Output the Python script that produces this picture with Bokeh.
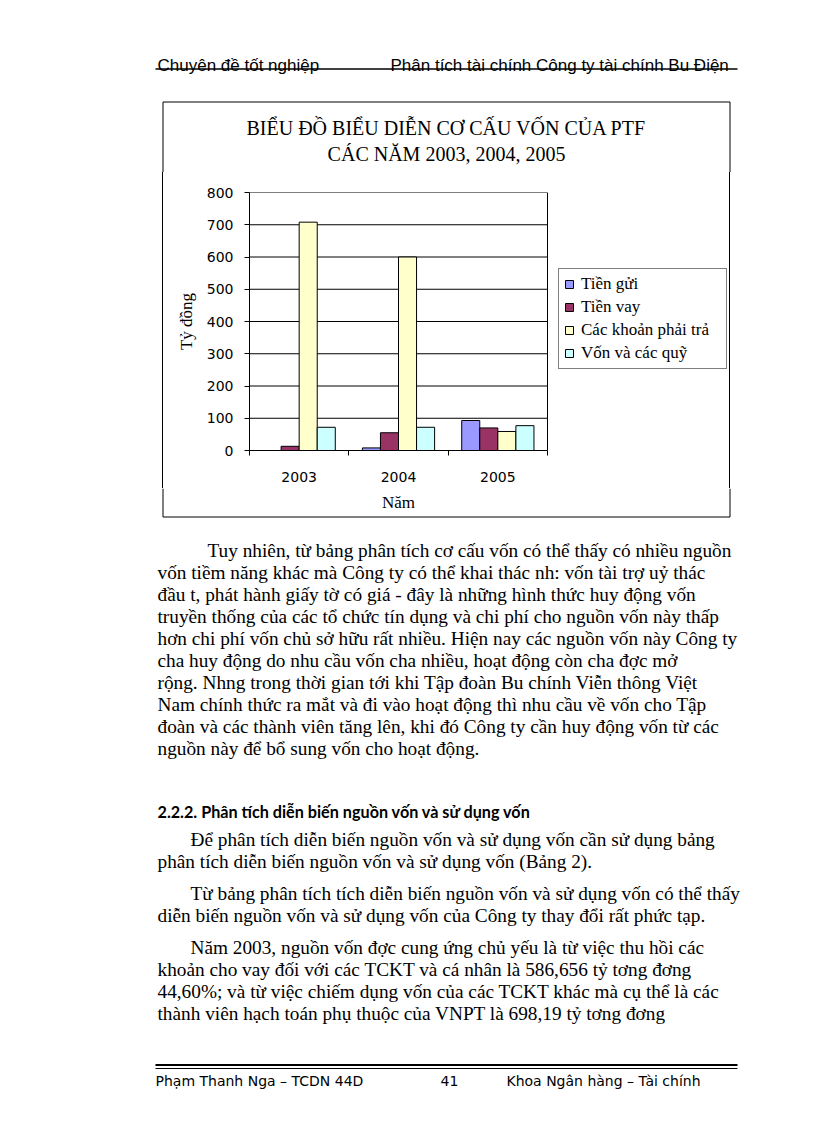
from bokeh.plotting import figure
from bokeh.models import Range1d, FixedTicker, Legend, LegendItem, ColumnDataSource, Spacer
from bokeh.layouts import column, row
from bokeh.transform import dodge
from bokeh.core.properties import value
from bokeh.embed import file_html
from bokeh.resources import INLINE

# ---------------- chart data ----------------
years = [2003, 2004, 2005]
year_labels = ["2003", "2004", "2005"]
series_names = ["Tiền gửi", "Tiền vay", "Các khoản phải trả", "Vốn và các quỹ"]
tien_gui = [0, 8, 93]
tien_vay = [13, 55, 70]
cac_khoan_phai_tra = [708, 600, 59]
von_va_cac_quy = [72, 72, 77]
y_ticks = [0, 100, 200, 300, 400, 500, 600, 700, 800]
series_colors = ["#9999FF", "#993366", "#FFFFCC", "#CCFFFF"]
chart_title = ["BIỂU ĐỒ BIỂU DIỄN CƠ CẤU VỐN CỦA PTF", "CÁC NĂM 2003, 2004, 2005"]
x_title = "Năm"
y_title = "Tỷ đồng"

# ---------------- page text ----------------
header_left = "Chuyên đề tốt nghiệp"
header_right = "Phân tích tài chính Công ty tài chính Bu   Điện"
footer_texts = ["Phạm Thanh Nga – TCDN 44D", "41", "Khoa Ngân hàng – Tài chính"]
heading = "2.2.2. Phân tích diễn biến nguồn vốn và sử dụng vốn"
para_lines = [
    "Tuy nhiên, từ bảng phân tích cơ cấu vốn có thể thấy có nhiều nguồn",
    "vốn tiềm năng khác mà Công ty có thể khai thác nh:  vốn tài trợ uỷ thác",
    "đầu t,  phát hành giấy tờ có giá - đây là những hình thức huy động vốn",
    "truyền thống của các tổ chức tín dụng và chi phí cho nguồn vốn này thấp",
    "hơn chi phí vốn chủ sở hữu rất nhiều. Hiện nay các nguồn vốn này Công ty",
    "cha  huy động do nhu cầu vốn cha  nhiều, hoạt động còn cha  đợc  mở",
    "rộng. Nhng  trong thời gian tới khi Tập đoàn Bu  chính Viễn thông Việt",
    "Nam chính thức ra mắt và đi vào hoạt động thì nhu cầu về vốn cho Tập",
    "đoàn và các thành viên tăng lên, khi đó Công ty cần huy động vốn từ các",
    "nguồn này để bổ sung vốn cho hoạt động.",
    "Để phân tích diễn biến nguồn vốn và sử dụng vốn cần sử dụng bảng",
    "phân tích diễn biến nguồn vốn và sử dụng vốn (Bảng 2).",
    "Từ bảng phân tích tích diễn biến nguồn vốn và sử dụng vốn có thể thấy",
    "diễn biến nguồn vốn và sử dụng vốn của Công ty thay đổi rất phức tạp.",
    "Năm 2003, nguồn vốn đợc  cung ứng chủ yếu là từ việc thu hồi các",
    "khoản cho vay đối với các TCKT và cá nhân là 586,656 tỷ tơng  đơng",
    "44,60%; và từ việc chiếm dụng vốn của các TCKT khác mà cụ thể là các",
    "thành viên hạch toán phụ thuộc của VNPT là 698,19 tỷ tơng  đơng",
]
para_x = [207] + [157] * 9 + [190, 157, 190, 157, 190, 157, 157, 157]
para_y = [550 + 22 * i for i in range(10)] + [839, 861, 893, 915, 947, 969, 991, 1013]

SERIF = "Liberation Serif"
SANS = "DejaVu Sans"
PAGE_W = 810
BOX_L, BOX_R, BOX_T, BOX_B = 162.5, 729.5, 101.5, 516.5
TOP_H = 172      # header + chart-title band: page y 0..172
MID_H = 316      # chart row: page y 172..488
CHART_W = 566    # page x 163..729
LEFT_B = 86      # chart left border (y axis area)
PLOT_W = 298     # width of the plot area proper, px
X0, X1 = 2002.5, 2005.5
BODY_Y0 = TOP_H + MID_H


def plain_fig(w, h, x0, y0):
    f = figure(width=w, height=h, x_range=Range1d(x0, x0 + w), y_range=Range1d(y0 + h, y0),
               output_backend="svg", toolbar_location=None, x_axis_type=None, y_axis_type=None,
               min_border=0, outline_line_color=None)
    f.grid.visible = False
    return f


# ---------------- top band: page header + box top + chart title ----------------
top = plain_fig(PAGE_W, TOP_H, 0, 0)
top.text(x=[157], y=[65], text=[header_left], text_font=value("Liberation Sans"),
         text_font_size=value("17px"), text_baseline="alphabetic", text_align="left", text_color="black")
top.text(x=[390], y=[65], text=[header_right], text_font=value("Liberation Sans"),
         text_font_size=value("17px"), text_baseline="alphabetic", text_align="left", text_color="black")
top.segment(x0=[155], y0=[68.5], x1=[737], y1=[68.5], line_color="black", line_width=1.6)
top.segment(x0=[BOX_L, BOX_L, BOX_R], y0=[BOX_T, BOX_T, BOX_T], x1=[BOX_R, BOX_L, BOX_R],
            y1=[BOX_T, TOP_H, TOP_H], line_color="black", line_width=1)
top.text(x=[446, 446], y=[127, 153], text=chart_title, text_font=value(SERIF),
         text_font_size=value("20px"), text_baseline="middle", text_align="center", text_color="black")

# ---------------- chart ----------------
# the frame spans the plot area plus the legend area to its right;
# the x range is extended so that 2002.5..2005.5 covers exactly the plot area
frame_w = CHART_W - LEFT_B
x_end = X0 + (X1 - X0) * frame_w / PLOT_W
chart = figure(width=CHART_W, height=MID_H, x_range=Range1d(X0, x_end), y_range=Range1d(0, 800),
               output_backend="svg", toolbar_location=None,
               min_border_left=LEFT_B, min_border_right=0, min_border_top=20, min_border_bottom=38)
chart.outline_line_color = None
chart.grid.visible = False

# plot-area grid lines and right border
chart.segment(x0=[X0] * (len(y_ticks) - 1), y0=y_ticks[1:], x1=[X1] * (len(y_ticks) - 1), y1=y_ticks[1:],
              line_color="black", line_width=1)
chart.segment(x0=[X1], y0=[y_ticks[0]], x1=[X1], y1=[y_ticks[-1]], line_color="black", line_width=1)

src = ColumnDataSource(dict(year=years, gui=tien_gui, vay=tien_vay, tra=cac_khoan_phai_tra, von=von_va_cac_quy))
bw = 1 / 5.5
items = []
for i, (col, name, color) in enumerate(zip(["gui", "vay", "tra", "von"], series_names, series_colors)):
    r = chart.vbar(x=dodge("year", (i - 1.5) * bw, range=chart.x_range), top=col, width=bw, source=src,
                   fill_color=color, line_color="black", line_width=1)
    items.append(LegendItem(label=name, renderers=[r]))

xa = chart.xaxis[0]
xa.bounds = (X0, X1)
xa.ticker = FixedTicker(ticks=years, minor_ticks=[2002.5, 2003.5, 2004.5, 2005.5])
xa.major_label_overrides = {y: l for y, l in zip(years, year_labels)}
xa.major_tick_line_color = None
xa.major_tick_out = 0
xa.major_tick_in = 0
xa.minor_tick_line_color = "black"
xa.minor_tick_out = 5
xa.minor_tick_in = 0
xa.major_label_standoff = 16

ya = chart.yaxis[0]
ya.ticker = FixedTicker(ticks=y_ticks, minor_ticks=[])
ya.major_tick_out = 5
ya.major_tick_in = 0
ya.minor_tick_line_color = None
ya.major_label_standoff = 11
ya.axis_label = y_title
ya.axis_label_standoff = 8

for ax in (xa, ya):
    ax.axis_line_color = "black"
    ax.major_label_text_font = SANS
    ax.major_label_text_font_size = "14px"
    ax.major_label_text_color = "black"
    ax.axis_label_text_font = SERIF
    ax.axis_label_text_font_size = "17px"
    ax.axis_label_text_font_style = "normal"
    ax.axis_label_text_color = "black"

legend = Legend(items=items, location=(PLOT_W + 11, 81), border_line_color="black", border_line_width=1,
                label_text_font=SERIF, label_text_font_size="17px", label_text_color="black",
                glyph_width=10, glyph_height=10, label_height=20, label_width=140,
                spacing=3, padding=5, margin=0, label_standoff=7, background_fill_color="white")
chart.add_layout(legend)

# side strips carrying the box's left / right edges (inset CSS shadow = 1px edge line)
left_strip = Spacer(width=163, height=MID_H, styles={"box-shadow": "inset -1px 0 0 0 #000000"})
right_strip = Spacer(width=PAGE_W - 163 - CHART_W, height=MID_H,
                     styles={"box-shadow": "inset 1px 0 0 0 #000000"})

middle = row(left_strip, chart, right_strip)

# ---------------- body: box bottom part, x-axis title, text, footer (page y 488..1100) ----------------
body = plain_fig(PAGE_W, 1100 - BODY_Y0, 0, BODY_Y0)
body.segment(x0=[BOX_L, BOX_L, BOX_R], y0=[BOX_B, BODY_Y0, BODY_Y0], x1=[BOX_R, BOX_L, BOX_R],
             y1=[BOX_B, BOX_B, BOX_B], line_color="black", line_width=1)
body.text(x=[163 + LEFT_B + PLOT_W / 2], y=[502], text=[x_title], text_font=value(SERIF),
          text_font_size=value("17px"), text_baseline="middle", text_align="center", text_color="black")
body.text(x=para_x, y=para_y, text=para_lines, text_font=value(SERIF), text_font_size=value("19.3px"),
          text_baseline="alphabetic", text_align="left", text_color="black")
body.text(x=[157], y=[811], text=[heading], text_font=value("Lato"), text_font_style="bold",
          text_font_size=value("16.2px"), text_baseline="alphabetic", text_align="left", text_color="black")
body.segment(x0=[155, 155], y0=[1064.5, 1068], x1=[737, 737], y1=[1064.5, 1068],
             line_color="black", line_width=[2, 1])
body.text(x=[155, 440, 506], y=[1080, 1080, 1080], text=footer_texts, text_font=value(SANS),
          text_font_size=value("14px"), text_baseline="alphabetic", text_align="left", text_color="black")

page = column(top, middle, body)

open("out.html", "w").write(file_html(page, INLINE))
